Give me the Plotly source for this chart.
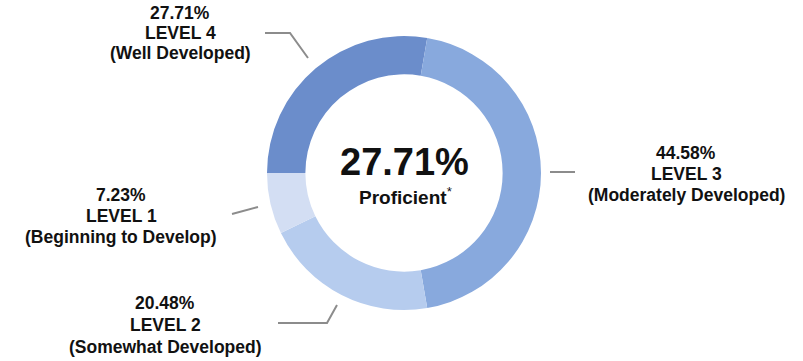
import plotly.graph_objects as go

# Share of students at each level, drawn clockwise from 9 o'clock
levels = ["LEVEL 4", "LEVEL 3", "LEVEL 2", "LEVEL 1"]
descriptions = ["(Well Developed)", "(Moderately Developed)", "(Somewhat Developed)", "(Beginning to Develop)"]
percents = [27.71, 44.58, 20.48, 7.23]
colors = ["#6B8DCB", "#88A9DD", "#B6CCEE", "#D3DEF3"]
proficient = percents[0]

W, H = 803, 361
cx, cy, r = 404, 173, 137

def px(x):
    return x / W

def py(y):
    return 1 - y / H

fig = go.Figure(go.Pie(
    labels=levels,
    values=percents,
    marker=dict(colors=colors, line=dict(width=0)),
    hole=0.72,
    sort=False,
    direction="clockwise",
    rotation=-90,
    textinfo="none",
    hoverinfo="label+percent",
    showlegend=False,
    domain=dict(x=[px(cx - r), px(cx + r)], y=[py(cy + r), py(cy - r)]),
))

font = "Arial, Liberation Sans, sans-serif"

# label anchor (x centre, y of middle line) and line spacing for each level
label_pos = {
    "LEVEL 4": (180, 33, 20),
    "LEVEL 3": (686, 174, 21),
    "LEVEL 2": (165, 325, 22),
    "LEVEL 1": (121, 216, 21),
}

annotations = []
for lvl, desc, pct in zip(levels, descriptions, percents):
    x, y, step = label_pos[lvl]
    for i, line in enumerate([f"{pct:.2f}%", lvl, desc]):
        annotations.append(dict(
            x=px(x), y=py(y + (i - 1) * step), xref="paper", yref="paper",
            text=f"<b>{line}</b>",
            showarrow=False, align="center",
            font=dict(family=font, size=17.5, color="#111111"),
            xanchor="center", yanchor="middle",
        ))

annotations.append(dict(
    x=px(cx), y=py(162), xref="paper", yref="paper",
    text=f"<b>{proficient:.2f}%</b>",
    showarrow=False, font=dict(family=font, size=38, color="#111111"),
    xanchor="center", yanchor="middle",
))
annotations.append(dict(
    x=px(cx + 1), y=py(196), xref="paper", yref="paper",
    text="<b>Proficient</b><sup>*</sup>",
    showarrow=False, font=dict(family=font, size=19, color="#111111"),
    xanchor="center", yanchor="middle",
))

# leader lines
leaders = [
    [(265, 33), (290, 33), (308, 58)],
    [(550, 172), (575, 172)],
    [(232, 214), (258, 207)],
    [(278, 323), (327, 323), (337, 305)],
]
shapes = []
for pts in leaders:
    path = "M " + " L ".join(f"{px(x)},{py(y)}" for x, y in pts)
    shapes.append(dict(type="path", path=path, xref="paper", yref="paper",
                       line=dict(color="#8C8C8C", width=2)))

fig.update_layout(
    width=W, height=H,
    margin=dict(l=0, r=0, t=0, b=0),
    paper_bgcolor="white", plot_bgcolor="white",
    annotations=annotations,
    shapes=shapes,
)

fig.write_html("out.html")
